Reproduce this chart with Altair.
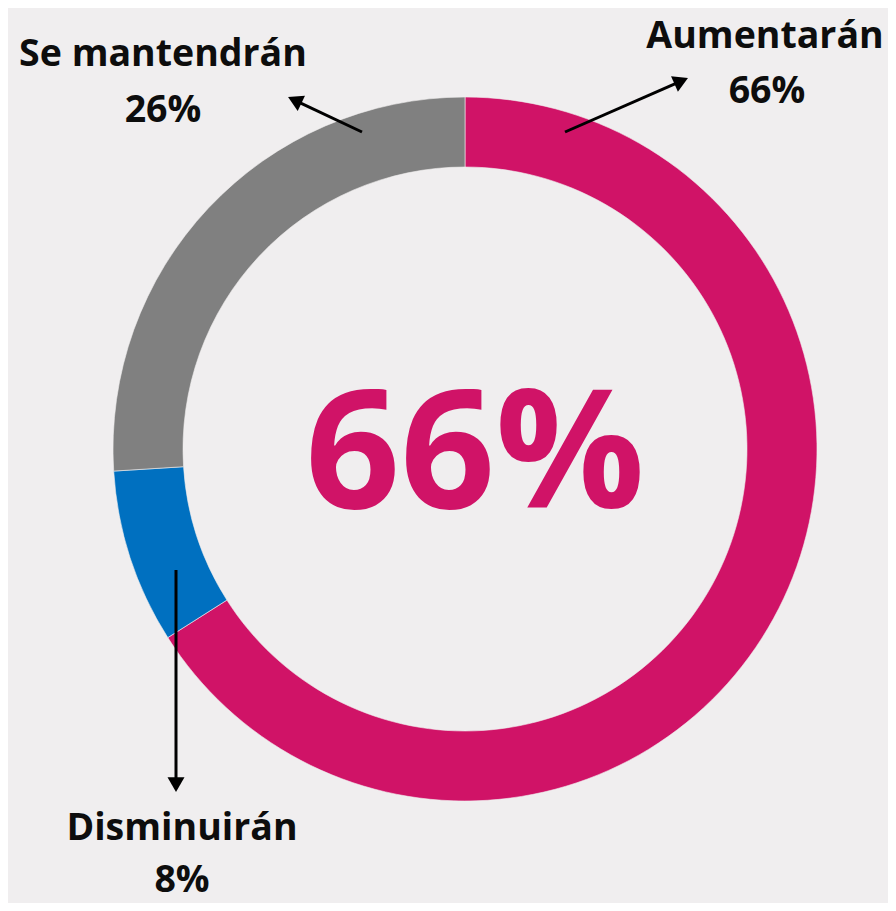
import math
import altair as alt
import pandas as pd

# ---- data ----
categories = ["Aumentarán", "Disminuirán", "Se mantendrán"]
values = [66, 8, 26]
center_label = "66%"

# ---- styles / layout (page pixel coords) ----
colors = ["#D01367", "#0070C0", "#808080"]
BG = "#F0EEEF"
W, H = 880, 895
OX, OY = 8, 8
CX, CY = 465 - OX, 449 - OY
R_OUT, R_IN = 352, 282

label_pos = {  # name baseline, pct baseline
    "Aumentarán": ((765, 48), (767, 103)),
    "Disminuirán": ((182, 840), (182, 892)),
    "Se mantendrán": ((163, 66), (163, 122)),
}
arrow_pos = {  # start, tip
    "Aumentarán": ((565, 132), (688, 78)),
    "Disminuirán": ((176, 570), (176, 792)),
    "Se mantendrán": ((362, 132), (288, 97)),
}

donut = pd.DataFrame({"cat": categories, "val": values, "ord": list(range(len(categories)))})

arc = alt.Chart(donut).mark_arc(
    innerRadius=R_IN, outerRadius=R_OUT, stroke=BG, strokeWidth=0.6
).encode(
    theta=alt.Theta("val:Q", stack=True),
    order=alt.Order("ord:Q"),
    color=alt.Color("cat:N", scale=alt.Scale(domain=categories, range=colors), legend=None),
    x=alt.value(CX),
    y=alt.value(CY),
)

# labels
rows = []
for c, v in zip(categories, values):
    (nx, ny), (px, py) = label_pos[c]
    rows.append({"t": c, "x": nx - OX, "y": ny - OY})
    rows.append({"t": f"{v}%", "x": px - OX, "y": py - OY})
labels_df = pd.DataFrame(rows)

labels = alt.Chart(labels_df).mark_text(
    font="Open Sans", fontWeight="bold", fontSize=37.5, color="#0D0D0D",
    align="center", baseline="alphabetic"
).encode(
    x=alt.X("x:Q", scale=None, axis=None),
    y=alt.Y("y:Q", scale=None, axis=None),
    text="t:N",
)

# arrows
lines, heads = [], []
for c in categories:
    (sx, sy), (tx, ty) = arrow_pos[c]
    dx, dy = tx - sx, ty - sy
    L = math.hypot(dx, dy)
    ux, uy = dx / L, dy / L
    lines.append({"x": sx - OX, "y": sy - OY, "x2": tx - 10 * ux - OX, "y2": ty - 10 * uy - OY})
    ang = (math.degrees(math.atan2(ux, -uy)) + 360) % 360
    heads.append({"x": tx - 7.4 * ux - OX, "y": ty - 7.4 * uy - OY, "a": ang})

rules = alt.Chart(pd.DataFrame(lines)).mark_rule(color="#000000", strokeWidth=3).encode(
    x=alt.X("x:Q", scale=None, axis=None),
    y=alt.Y("y:Q", scale=None, axis=None),
    x2="x2:Q",
    y2="y2:Q",
)
tips = alt.Chart(pd.DataFrame(heads)).mark_point(
    shape="triangle-up", filled=True, color="#000000", size=289, opacity=1
).encode(
    x=alt.X("x:Q", scale=None, axis=None),
    y=alt.Y("y:Q", scale=None, axis=None),
    angle=alt.Angle("a:Q", scale=None),
)

center = alt.Chart(pd.DataFrame({"t": [center_label], "x": [475 - OX], "y": [508 - OY]})).mark_text(
    font="Open Sans", fontWeight="bold", fontSize=166, color=colors[0],
    align="center", baseline="alphabetic"
).encode(
    x=alt.X("x:Q", scale=None, axis=None),
    y=alt.Y("y:Q", scale=None, axis=None),
    text="t:N",
)

chart = alt.layer(arc, rules, tips, labels, center).properties(
    width=W, height=H, padding=0, autosize=alt.AutoSizeParams(type="none"),
    background=BG,
).configure_view(stroke=None)

chart.save("out.html", embed_options={"renderer": "svg", "actions": False})
